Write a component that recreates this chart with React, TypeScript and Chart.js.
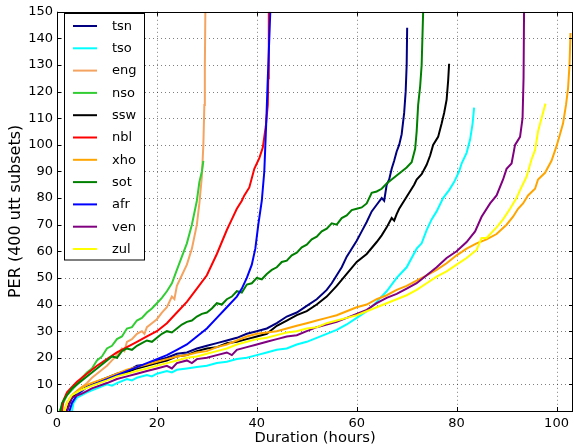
import React, { useEffect, useRef } from 'react';
import { Chart, registerables } from 'chart.js';

Chart.register(...registerables);

const seriesNames = ['tsn', 'tso', 'eng', 'nso', 'ssw', 'nbl', 'xho', 'sot', 'afr', 'ven', 'zul'];
const seriesColors = ['#000080', '#00ffff', '#f4a460', '#32cd32', '#000000', '#ff0000', '#ffa500', '#008000', '#0000ff', '#800080', '#ffff00'];

const xTicks = [0, 20, 40, 60, 80, 100];
const yTicks = [0, 10, 20, 30, 40, 50, 60, 70, 80, 90, 100, 110, 120, 130, 140, 150];

const tsn: [number, number][] = [[2,0],[2.5,3],[3,5],[4,7],[6,9],[8,11],[10,12.5],[12,14],[14,15],[16,17],[18,17.5],[20,19],[22,20],[24,21.5],[26,22],[28,23.5],[30,24.5],[32,25.5],[34,26.5],[36,27.5],[38,29],[40,30],[42,31],[44,33],[46,35.5],[48,37],[50,39.5],[52,42],[54,45.5],[55,48],[56,51],[57,54],[58,58],[59,61],[60,64],[61,67.5],[62,71],[63,75],[64,77.5],[65,80],[65.5,79],[66,85],[66.5,87],[67,91],[67.5,94],[68,97.5],[68.5,100],[69,104],[69.5,112],[69.8,120],[70,130],[70.1,144]];

const tso: [number, number][] = [[3,0],[3.3,3],[4,5],[6,7],[8,8.5],[10,10],[11,9.5],[12,10.5],[14,12],[15,11.5],[16,12.5],[18,13.5],[19,13],[20,14],[22,15],[23,14.5],[24,15.5],[26,16],[28,16.5],[30,17],[32,18],[34,18.5],[36,19.5],[38,20],[40,21],[42,22],[44,23],[46,23.5],[48,25],[50,26],[52,27.5],[54,29],[56,30.5],[58,32.5],[60,35],[62,37.5],[64,41],[66,45],[68,50],[70,54],[72,61],[73,63],[74,68],[75,72],[76,75],[77.3,80],[78.5,83],[79.5,86],[80.5,90],[81,93],[82,97],[82.7,102],[83.2,108],[83.5,114]];

const eng: [number, number][] = [[1.5,0],[2,3],[3,5.5],[4,7.5],[5,9],[6,10.5],[7,12.5],[8,14],[9,15.5],[10,17],[11,19],[12,21],[13,23.5],[13.5,22.5],[14,26],[15,27],[16,29],[17,30],[17.5,29],[18,31.5],[19,33],[20,34.5],[21,37],[22,39],[23,43],[23.5,42],[24,47],[25,51],[26,55],[27,61],[28,70],[28.5,78],[29,88],[29.3,100],[29.5,115],[29.6,130],[29.7,150]];

const nso: [number, number][] = [[0.5,0],[1,2],[1.5,4],[2,6],[3,8],[4,10],[5,12.5],[6,14.5],[7,16],[8,19],[9,20.5],[10,23.5],[11,24.5],[12,27],[13,28],[14,31],[15,31.5],[16,34],[17,35],[18,37],[19,38.5],[20,40.5],[21,42.5],[22,45],[23,48],[24,53],[25,58],[26,63],[27,70],[28,79],[28.5,86],[29,90],[29.3,94]];

const ssw: [number, number][] = [[2,0],[2.5,3],[3,5],[4,7],[6,9],[8,10.5],[10,12],[12,13.5],[14,14.5],[16,16],[18,17],[20,18],[22,19],[24,20.5],[26,21],[28,22.5],[30,23.5],[32,24],[34,25.5],[36,26],[38,27],[40,28],[42,29],[44,32],[46,34],[48,36],[50,37.5],[52,40],[54,43],[56,47],[58,51.5],[60,56],[62,59],[64,63.5],[65,66],[66,69],[67,72.5],[67.5,71.5],[68,74],[68.5,76],[69.5,79],[70.5,82],[71.5,85],[72,87],[73,89],[74,92.5],[74.7,96],[75.3,100],[76.3,103],[77,108],[77.5,112],[78,117],[78.3,124],[78.5,130.5]];

const nbl: [number, number][] = [[1,0],[1.3,4],[2,7],[3,9],[4,11],[5,12.5],[6,14],[8,17],[10,19.5],[12,22],[14,24],[16,26],[18,28],[20,30],[22,33],[24,37],[26,41],[28,46],[30,51],[32,59],[34,68],[35,72],[36,76],[37,79],[37.5,81],[38.5,84],[39.5,91],[40.5,95],[41.2,99],[41.8,107],[42.2,115],[42.3,125],[42.4,150]];

const xho: [number, number][] = [[1.5,0],[2,3],[3,6],[5,9],[7,10.5],[10,12.5],[12,14],[14,15.5],[16,16.5],[18,17.5],[20,18.5],[22,19.5],[24,20.5],[26,21],[28,22],[30,22.5],[32,24],[34,25],[36,26.5],[38,28],[40,29],[42,29.5],[44,30],[46,31],[48,32],[50,33],[52,34],[54,35],[56,36],[58,37.5],[60,39],[62,40],[64,42],[66,43.5],[68,45.5],[70,47],[72,49],[74,51],[76,53],[78,55.5],[80,58.5],[82,61],[84,63],[86,64.5],[88,66.5],[90,70],[91.3,73],[92.3,76],[93.3,78],[94.3,81],[95.7,83.5],[96.3,87],[97.7,89.5],[99,94],[100,99.5],[100.7,104],[101.3,108],[101.9,115],[102.3,121],[102.6,130],[102.8,142]];

const sot: [number, number][] = [[0.7,0],[1,3],[2,6],[3,8.5],[4,10],[5,11.5],[7,14.5],[9,17.5],[10,19],[11,20.5],[12,20],[13,22.5],[14,23.5],[15,23],[16,24.5],[17,25.5],[18,26.5],[19,26],[20,27.5],[21,29],[22,30],[23,29.5],[24,31],[25,32.5],[26,33.5],[27,34],[28,35.5],[29,36.5],[30,37],[31,38.5],[32,40.5],[33,40],[34,42],[35,43],[36,45],[37,44.5],[38,47.5],[39,48],[40,50],[41,49.5],[42,51.5],[43,53],[44,54],[45,56],[46,56.5],[47,58.5],[48,59.5],[49,61.5],[50,62.5],[51,64.5],[52,65.5],[53,67.5],[54,68.5],[55,70.5],[56,70],[57,72.5],[58,73.5],[59,75.5],[60,76],[61,76.5],[62,78],[63,82],[64,82.5],[65,83.5],[66,85.5],[67,87],[68,88.5],[69,90],[70,91.5],[71,93.5],[71.7,98.5],[72,105],[72.3,115],[72.7,122],[73,130],[73.3,150]];

const afr: [number, number][] = [[2.5,0],[3,3],[4,6],[6,9],[8,10.5],[10,12],[12,13.5],[14,15],[16,16.5],[18,18],[20,19.5],[22,21],[24,23],[26,25],[28,28],[30,31],[32,35],[34,39],[36,43],[37,46],[38,50],[39,55],[39.7,61],[40.3,70],[41,79],[41.5,90],[41.9,109],[42.2,125],[42.5,140],[42.7,150]];

const ven: [number, number][] = [[2,0],[2.5,3],[3,5],[5,6.5],[7,8.5],[10,10.5],[12,12],[14,13],[16,14],[18,15],[20,16],[22,17],[23,16],[24,18],[26,19],[27,18],[28,19.5],[30,20],[32,21],[34,22],[35,21],[36,23],[38,24],[40,25],[42,26],[44,27],[46,28],[48,28.5],[50,30],[52,31.5],[54,32.5],[56,33.5],[58,35],[60,36.5],[62,38],[64,40.5],[66,42.5],[68,44],[70,46],[72,48],[74,51],[76,54],[78,57.5],[80,60],[82,63.5],[83.7,67.5],[85,73],[86.7,78],[88,81],[89.3,87],[90,91],[91,93],[91.7,100],[92.7,103],[93.2,110],[93.4,125],[93.5,150]];

const zul: [number, number][] = [[1.5,0],[2,3],[3,6],[5,8],[7,9.5],[10,11.5],[12,13],[14,14],[16,15],[18,16],[20,17],[22,18],[24,19],[26,20],[28,20.5],[30,21.5],[32,22.5],[34,23.5],[36,25],[38,26],[40,27],[42,27.5],[44,28.5],[46,29.5],[48,30],[50,31],[52,31.5],[54,33],[56,34],[58,35],[60,36],[62,37.5],[64,39],[66,40.5],[68,42],[70,43.5],[72,45.5],[74,48],[76,50.5],[78,52.5],[80,55],[82,57.5],[84,60.5],[85,65],[86,65],[87,67],[88,69],[89.3,72],[90.7,76],[92,80],[92.7,83],[94,88],[95,94.5],[95.7,98],[96.3,105],[97,110],[97.8,115.5]];

const seriesData = [tsn, tso, eng, nso, ssw, nbl, xho, sot, afr, ven, zul];

const FONT = 'DejaVu Sans';

const gridPlugin = {
  id: 'dottedGrid',
  beforeDatasetsDraw(chart: any) {
    const { ctx, chartArea, scales } = chart;
    const { left, top, right, bottom } = chartArea;
    ctx.save();
    ctx.strokeStyle = 'rgba(0,0,0,0.5)';
    ctx.lineWidth = 1;
    ctx.setLineDash([1, 3]);
    ctx.beginPath();
    xTicks.forEach((v) => {
      const px = Math.round(scales.x.getPixelForValue(v)) + 0.5;
      ctx.moveTo(px, top);
      ctx.lineTo(px, bottom);
    });
    yTicks.forEach((v) => {
      const py = Math.round(scales.y.getPixelForValue(v)) + 0.5;
      ctx.moveTo(left, py);
      ctx.lineTo(right, py);
    });
    ctx.stroke();
    ctx.restore();
  },
};

const framePlugin = {
  id: 'frameAndLegend',
  afterDraw(chart: any) {
    const { ctx, chartArea, scales } = chart;
    const { left, top, right, bottom } = chartArea;
    ctx.save();
    ctx.strokeStyle = '#000';
    ctx.lineWidth = 1;
    ctx.setLineDash([]);
    ctx.strokeRect(Math.round(left) + 0.5, Math.round(top) + 0.5, Math.round(right - left) - 1, Math.round(bottom - top));
    ctx.beginPath();
    xTicks.forEach((v) => {
      const px = Math.round(scales.x.getPixelForValue(v)) + 0.5;
      ctx.moveTo(px, bottom);
      ctx.lineTo(px, bottom - 4);
      ctx.moveTo(px, top);
      ctx.lineTo(px, top + 4);
    });
    yTicks.forEach((v) => {
      const py = Math.round(scales.y.getPixelForValue(v)) + 0.5;
      ctx.moveTo(left, py);
      ctx.lineTo(left + 4, py);
      ctx.moveTo(right, py);
      ctx.lineTo(right - 4, py);
    });
    ctx.stroke();

    // legend
    const bx = 64.5;
    const by = 13.5;
    const bw = 80;
    const bh = 246.5;
    ctx.fillStyle = '#ffffff';
    ctx.fillRect(bx, by, bw, bh);
    ctx.strokeStyle = '#000';
    ctx.lineWidth = 1;
    ctx.strokeRect(bx, by, bw, bh);
    ctx.font = `13px "${FONT}"`;
    ctx.textBaseline = 'middle';
    ctx.textAlign = 'left';
    seriesNames.forEach((name, i) => {
      const y = 26 + i * 22.3;
      ctx.strokeStyle = seriesColors[i];
      ctx.lineWidth = 2;
      ctx.beginPath();
      ctx.moveTo(73, y);
      ctx.lineTo(97, y);
      ctx.stroke();
      ctx.fillStyle = '#000';
      ctx.fillText(name, 112, y + 0.5);
    });
    ctx.restore();
  },
};

export default function App() {
  const canvasRef = useRef<HTMLCanvasElement | null>(null);

  useEffect(() => {
    if (!canvasRef.current) return;
    const datasets = seriesNames.map((name, i) => ({
      label: name,
      data: seriesData[i].map(([x, y]) => ({ x, y })),
      borderColor: seriesColors[i],
      backgroundColor: seriesColors[i],
      borderWidth: 2,
      pointRadius: 0,
      tension: 0,
      fill: false,
      order: seriesNames.length - i,
    }));

    const chart = new Chart(canvasRef.current, {
      type: 'line',
      data: { datasets },
      plugins: [gridPlugin, framePlugin],
      options: {
        animation: false,
        responsive: true,
        maintainAspectRatio: false,
        layout: { padding: { top: 7, right: 1, left: 0, bottom: 0 } },
        plugins: {
          legend: { display: false },
          tooltip: { enabled: false },
        },
        scales: {
          x: {
            type: 'linear',
            min: 0,
            max: 103.3,
            afterBuildTicks: (scale: any) => {
              scale.ticks = xTicks.map((v) => ({ value: v }));
            },
            afterFit: (scale: any) => {
              scale.height = 37;
            },
            ticks: {
              font: { family: FONT, size: 13 },
              color: '#000',
              padding: 5,
              maxRotation: 0,
            },
            grid: { display: false, drawTicks: false },
            border: { display: false },
            title: {
              display: true,
              text: 'Duration (hours)',
              font: { family: FONT, size: 14.7 },
              color: '#000',
              padding: { top: 0, bottom: 1.5 },
            },
          },
          y: {
            type: 'linear',
            min: 0,
            max: 150,
            afterBuildTicks: (scale: any) => {
              scale.ticks = yTicks.map((v) => ({ value: v }));
            },
            afterFit: (scale: any) => {
              scale.width = 57;
            },
            ticks: {
              font: { family: FONT, size: 13 },
              color: '#000',
              padding: 4,
            },
            grid: { display: false, drawTicks: false },
            border: { display: false },
            title: {
              display: true,
              text: 'PER (400 utt subsets)',
              font: { family: FONT, size: 16 },
              color: '#000',
              padding: { top: 6.5, bottom: 0 },
            },
          },
        },
      } as any,
    });
    return () => chart.destroy();
  }, []);

  return (
    <div style={{ position: 'fixed', left: 0, top: 0, width: 574, height: 448, background: '#fff' }}>
      <canvas ref={canvasRef} />
    </div>
  );
}
